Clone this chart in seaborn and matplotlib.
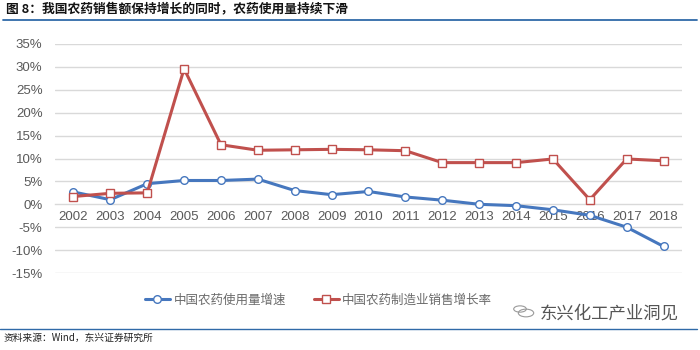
import numpy as np
import pandas as pd
import matplotlib
matplotlib.use("Agg")
import matplotlib.pyplot as plt
from matplotlib.lines import Line2D
from matplotlib.patches import Circle
import seaborn as sns

years = ["2002", "2003", "2004", "2005", "2006", "2007", "2008", "2009", "2010",
         "2011", "2012", "2013", "2014", "2015", "2016", "2017", "2018"]
usage_growth = [2.7, 1.0, 4.5, 5.2, 5.2, 5.5, 3.0, 2.1, 2.8,
                1.6, 0.9, 0.0, -0.3, -1.2, -2.4, -5.0, -9.2]
sales_growth = [1.7, 2.4, 2.5, 29.6, 13.0, 11.8, 11.9, 12.0, 11.9,
                11.7, 9.1, 9.1, 9.1, 9.9, 1.0, 9.9, 9.5]
series_names = ["中国农药使用量增速", "中国农药制造业销售增长率"]
y_ticks = [-15, -10, -5, 0, 5, 10, 15, 20, 25, 30, 35]

title_text = "图 8：我国农药销售额保持增长的同时，农药使用量持续下滑"
source_text = "资料来源：Wind，东兴证券研究所"
brand_text = "东兴化工产业洞见"

sns.set_theme(style="white")
plt.rcParams["font.family"] = ["Liberation Sans", "Noto Sans CJK SC", "DejaVu Sans"]

BLUE = "#4677BE"
RED = "#C0504D"
GRID = "#D9D9D9"
TXT = "#595959"
LW = 2.2
MS = 5.5

df = pd.DataFrame({
    "idx": np.tile(np.arange(len(years)), 2),
    "val": usage_growth + sales_growth,
    "series": [series_names[0]] * len(years) + [series_names[1]] * len(years),
})

fig = plt.figure(figsize=(7, 3.5), dpi=100)
ax = fig.add_axes([55 / 700, 1 - 273 / 350, 627 / 700, 229 / 350])

sns.lineplot(data=df[df.series == series_names[0]], x="idx", y="val", ax=ax,
             color=BLUE, linewidth=LW, marker="o", markersize=MS,
             markerfacecolor="white", markeredgecolor=BLUE, markeredgewidth=1.0,
             legend=False, zorder=3)
sns.lineplot(data=df[df.series == series_names[1]], x="idx", y="val", ax=ax,
             color=RED, linewidth=LW, marker="s", markersize=MS,
             markerfacecolor="white", markeredgecolor=RED, markeredgewidth=1.0,
             legend=False, zorder=4)

ax.set_xlim(-0.5, len(years) - 0.5)
ax.set_ylim(-15, 35)
ax.set_xlabel("")
ax.set_ylabel("")

# horizontal gridlines
for t in y_ticks:
    if t != 0:
        ax.axhline(t, color=GRID, lw=1.0, zorder=0)

ax.set_yticks(y_ticks)
ax.set_yticklabels([f"{t}%" for t in y_ticks], color=TXT, fontsize=9.5)
ax.tick_params(axis="y", length=0, pad=9)

# category axis drawn on the zero line
for s in ["top", "right", "left"]:
    ax.spines[s].set_visible(False)
ax.spines["bottom"].set_position(("data", 0))
ax.spines["bottom"].set_color(GRID)
ax.spines["bottom"].set_linewidth(1.0)
ax.spines["bottom"].set_zorder(1)

ax.set_xticks(np.arange(-0.5, len(years), 1.0))
ax.set_xticklabels([])
ax.set_xticks(np.arange(len(years)), minor=True)
ax.set_xticklabels(years, minor=True, color=TXT, fontsize=9.5)
ax.tick_params(axis="x", which="major", length=4, width=1.0, color=GRID, direction="out")
ax.tick_params(axis="x", which="minor", length=0, pad=5)

# legend
handles = [
    Line2D([0], [0], color=BLUE, lw=LW, marker="o", markersize=MS,
           markerfacecolor="white", markeredgecolor=BLUE),
    Line2D([0], [0], color=RED, lw=LW, marker="s", markersize=MS,
           markerfacecolor="white", markeredgecolor=RED),
]
leg = fig.legend(handles, series_names, loc="center", bbox_to_anchor=(0.455, 1 - 300 / 350),
                 ncol=2, frameon=False, handlelength=2.0, handletextpad=0.3,
                 columnspacing=2.2, prop={"family": ["Noto Sans CJK SC"], "size": 9})
for t in leg.get_texts():
    t.set_color("#6a6a6a")

# header and footer
fig.text(6 / 700, 1 - 10 / 350, title_text, fontsize=9.2, fontweight="bold",
         family=["Noto Sans CJK SC"], color="#141414", va="center", ha="left")
fig.add_artist(Line2D([3 / 700, 697 / 700], [1 - 20 / 350, 1 - 20 / 350],
                      color="#2F6AA8", lw=1.3))
fig.add_artist(Line2D([0 / 700, 697 / 700], [1 - 329 / 350, 1 - 329 / 350],
                      color="#2F6AA8", lw=1.0))
fig.text(4 / 700, 1 - 338 / 350, source_text, fontsize=7, style="italic",
         family=["Noto Sans CJK SC"], color="#222222", va="center", ha="left")

# brand mark
fig.text(540 / 700, 1 - 314 / 350, brand_text, fontsize=12.5,
         family=["Noto Sans CJK SC"], fontweight="light", color="#555555",
         va="center", ha="left")
fig.add_artist(Circle((526 / 700, 1 - 313 / 350), 0.011, transform=fig.transFigure,
                      facecolor="none", edgecolor="#9a9a9a", lw=0.8))
fig.add_artist(Circle((520 / 700, 1 - 309 / 350), 0.009, transform=fig.transFigure,
                      facecolor="none", edgecolor="#9a9a9a", lw=0.8))

fig.savefig("out.png", dpi=100, facecolor="white")
